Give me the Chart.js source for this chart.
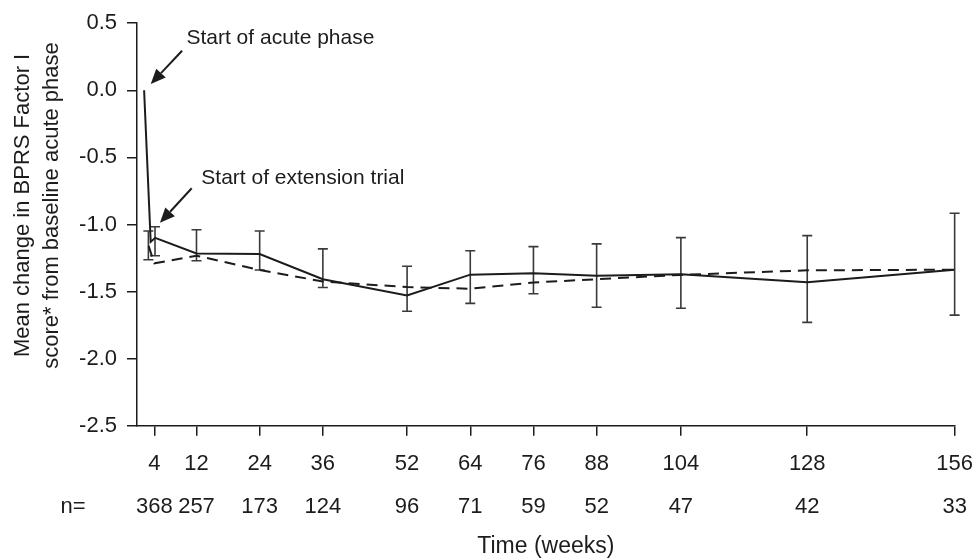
<!DOCTYPE html>
<html><head><meta charset="utf-8">
<script src="https://cdn.jsdelivr.net/npm/chart.js@4.4.0/dist/chart.umd.min.js"></script>
<style>html,body{margin:0;padding:0;background:#fff;} #wrap{width:980px;height:559px;position:relative;}</style>
</head><body><div id="wrap"><canvas id="c" width="980" height="559"></canvas></div>
<script>
// ---- data ----
const weeks = [4, 12, 24, 36, 52, 64, 76, 88, 104, 128, 156];
const nPatients = [368, 257, 173, 124, 96, 71, 59, 52, 47, 42, 33];
const solidWeeks = [2.05, 3.3, 4.15, 12, 24, 36, 52, 64, 76, 88, 104, 128, 156];
const solidValues = [0, -1.13, -1.10, -1.216, -1.221, -1.408, -1.529, -1.374, -1.364, -1.383, -1.371, -1.43, -1.337];
const dashedWeeks = [2.9, 4, 12, 24, 36, 52, 64, 76, 88, 104, 128, 156];
const dashedValues = [-1.16, -1.29, -1.233, -1.339, -1.425, -1.467, -1.479, -1.433, -1.408, -1.376, -1.342, -1.337];
const errWeeks = [2.86, 4.12, 12, 24, 36, 52, 64, 76, 88, 104, 128, 156];
const errUpper = [-1.049, -1.017, -1.039, -1.049, -1.182, -1.312, -1.196, -1.165, -1.145, -1.098, -1.083, -0.916];
const errLower = [-1.263, -1.233, -1.27, -1.339, -1.47, -1.647, -1.588, -1.516, -1.617, -1.625, -1.73, -1.676];
const yTickValues = [0.5, 0, -0.5, -1, -1.5, -2, -2.5];
const yTitle = ['Mean change in BPRS Factor I', 'score* from baseline acute phase'];
const xTitle = 'Time (weeks)';
const nLabel = 'n=';
const noteTexts = ['Start of acute phase', 'Start of extension trial'];
const noteAt = [[10.09, 0.388], [12.91, -0.652]];
const arrowFrom = [[9.26, 0.295], [11.09, -0.73]];
const arrowTo = [[3.31, 0.046], [5.06, -0.988]];

const FONT = "'Liberation Sans', Arial, Helvetica, sans-serif";
const INK = '#1c1c1c';

const extras = {
  id: 'extras',
  beforeDatasetsDraw(chart) {
    const {ctx, scales: {x, y}} = chart;
    ctx.save();
    ctx.strokeStyle = '#3a3a3a';
    ctx.lineWidth = 1.6;
    errWeeks.forEach((w, i) => {
      const px = x.getPixelForValue(w);
      const pt = y.getPixelForValue(errUpper[i]);
      const pb = y.getPixelForValue(errLower[i]);
      ctx.beginPath();
      ctx.moveTo(px, pt); ctx.lineTo(px, pb);
      ctx.moveTo(px - 5, pt); ctx.lineTo(px + 5, pt);
      ctx.moveTo(px - 5, pb); ctx.lineTo(px + 5, pb);
      ctx.stroke();
    });
    ctx.restore();
  },
  afterDraw(chart) {
    const {ctx, chartArea, scales: {x, y}} = chart;
    ctx.save();
    ctx.fillStyle = INK;
    ctx.strokeStyle = INK;
    ctx.font = '21px ' + FONT;
    ctx.textBaseline = 'middle';
    ctx.textAlign = 'left';
    noteTexts.forEach((t, i) => {
      ctx.fillText(t, x.getPixelForValue(noteAt[i][0]), y.getPixelForValue(noteAt[i][1]));
    });
    arrowFrom.forEach((f, i) => {
      const x1 = x.getPixelForValue(f[0]), y1 = y.getPixelForValue(f[1]);
      const x2 = x.getPixelForValue(arrowTo[i][0]), y2 = y.getPixelForValue(arrowTo[i][1]);
      const ang = Math.atan2(y2 - y1, x2 - x1);
      const L = 15, W = 6.5;
      const bx = x2 - L * Math.cos(ang), by = y2 - L * Math.sin(ang);
      ctx.lineWidth = 2;
      ctx.beginPath(); ctx.moveTo(x1, y1); ctx.lineTo(bx, by); ctx.stroke();
      ctx.beginPath();
      ctx.moveTo(x2, y2);
      ctx.lineTo(bx + W * Math.sin(ang), by - W * Math.cos(ang));
      ctx.lineTo(bx - W * Math.sin(ang), by + W * Math.cos(ang));
      ctx.closePath(); ctx.fill();
    });
    // y-axis title (two lines, rotated), slightly above the axis centre as in the original
    ctx.font = '22px ' + FONT;
    ctx.textAlign = 'center';
    const cy = (chartArea.top + chartArea.bottom) / 2 - 19;
    yTitle.forEach((t, i) => {
      ctx.save();
      ctx.translate(23 + i * 29, cy);
      ctx.rotate(-Math.PI / 2);
      ctx.fillText(t, 0, 0);
      ctx.restore();
    });
    // "n=" row label, aligned with second tick-label line
    const lh = 42.7;
    ctx.fillText(nLabel, 73, x.top + 17 + lh * 1.5);
    ctx.restore();
  }
};

new Chart(document.getElementById('c'), {
  type: 'line',
  data: {
    datasets: [
      {
        label: 'solid',
        data: solidWeeks.map((w, i) => ({x: w, y: solidValues[i]})),
        borderColor: INK, borderWidth: 2, pointRadius: 0, tension: 0, fill: false
      },
      {
        label: 'dashed',
        data: dashedWeeks.map((w, i) => ({x: w, y: dashedValues[i]})),
        borderColor: INK, borderWidth: 2, borderDash: [11, 7], pointRadius: 0, tension: 0, fill: false
      }
    ]
  },
  options: {
    responsive: false,
    animation: false,
    devicePixelRatio: 1,
    layout: {padding: {top: 19.5, right: 18.3, left: 0, bottom: 0}},
    plugins: {legend: {display: false}, tooltip: {enabled: false}},
    scales: {
      x: {
        type: 'linear', min: 0.7, max: 156,
        afterBuildTicks: (s) => { s.ticks = weeks.map(v => ({value: v})); },
        afterFit: (s) => { s.height = 133.3; },
        ticks: {
          autoSkip: false, maxRotation: 0, minRotation: 0, padding: 7, color: INK,
          font: {family: FONT, size: 22, lineHeight: 42.7 / 22},
          callback: (v, i) => [String(weeks[i]), String(nPatients[i])]
        },
        grid: {display: true, drawOnChartArea: false, drawTicks: true, tickLength: 10, color: INK, lineWidth: 1.5},
        border: {display: true, color: INK, width: 1.5},
        title: {display: true, text: xTitle, color: INK, font: {family: FONT, size: 23, lineHeight: 1}, padding: {top: 0, bottom: 1}}
      },
      y: {
        type: 'linear', min: -2.5, max: 0.5,
        afterBuildTicks: (s) => { s.ticks = yTickValues.map(v => ({value: v})); },
        afterFit: (s) => { s.width = 137; },
        ticks: {
          padding: 10, color: INK,
          font: {family: FONT, size: 22},
          callback: (v) => v.toFixed(1)
        },
        grid: {display: true, drawOnChartArea: false, drawTicks: true, tickLength: 10, color: INK, lineWidth: 1.5},
        border: {display: true, color: INK, width: 1.5}
      }
    }
  },
  plugins: [extras]
});
</script></body></html>
